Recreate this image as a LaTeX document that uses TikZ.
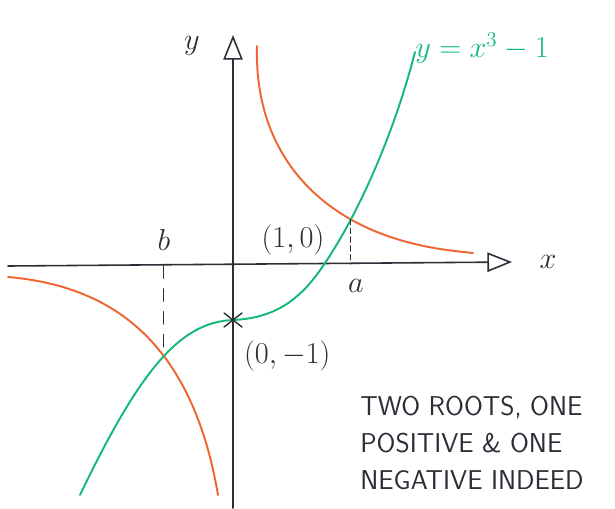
\documentclass[tikz,border=0pt]{standalone}
\usepackage{tikz}
\usetikzlibrary{arrows.meta, intersections}
\definecolor{cubicgreen}{RGB}{20,185,120}
\definecolor{hyporange}{RGB}{240,100,50}
\definecolor{pen}{RGB}{45,45,55}

\begin{document}
\begin{tikzpicture}[x=0.02cm, y=-0.02cm, line cap=round, line join=round,
    axis/.style={pen, line width=0.9pt, -{Triangle[open, length=14pt, width=11pt]}},
    curve/.style={line width=1.1pt},
    lbl/.style={pen, font=\fontsize{17}{20}\selectfont},
    note/.style={pen, font=\sffamily\fontsize{15.5}{21}\selectfont, align=left}]

  \useasboundingbox (0,0) rectangle (615,508);

  % Axes
  \draw[axis] (8,266) -- (512,262);
  \draw[axis] (233,508) -- (233,35);
  \node[lbl] (xlab) at (548,262) {$x$};
  \node[lbl] (ylab) at (192,46) {$y$};

  % Hyperbola branches
  \draw[curve, hyporange, name path=upbranch] (257,46)
    .. controls (254,150) and (315,215) .. (400,240)
    .. controls (430,249) and (455,251) .. (473,253);
  \draw[curve, hyporange, name path=lowbranch] (8,277)
    .. controls (100,285) and (190,330) .. (218,495);

  % Cubic
  \draw[curve, cubicgreen, name path=cubic] (80,495)
    .. controls (140,370) and (180,322) .. (233,320)
    .. controls (275,318) and (300,300) .. (323,266)
    .. controls (360,212) and (395,130) .. (415,52);
  \node[cubicgreen, font=\fontsize{18}{22}\selectfont] (eqn) at (482,48) {$y=x^3-1$};

  % Intersections dropped to the axis
  \path[name intersections={of=cubic and lowbranch, by=bcut}];
  \path[name intersections={of=cubic and upbranch, by=acut}];
  \coordinate (bfoot) at (bcut |- 0,266);
  \coordinate (afoot) at (acut |- 0,264);
  \draw[pen, dashed, dash pattern=on 7pt off 6pt, line width=0.7pt] (bfoot) -- (bcut);
  \draw[pen, densely dashed, line width=0.7pt] (acut) -- (afoot);
  \node[lbl] (blab) at ([shift={(0,-26)}]bfoot) {$b$};
  \node[lbl] (alab) at ([shift={(5,22)}]afoot) {$a$};

  % Axis crossings
  \coordinate (root) at (323,266);
  \coordinate (yint) at (233,320);
  \draw[pen, line width=0.8pt] ([shift={(-9,-7)}]yint) -- ([shift={(9,7)}]yint)
    ([shift={(-9,7)}]yint) -- ([shift={(9,-7)}]yint);
  \node[lbl] (rootlab) at (293,240) {$(1,0)$};
  \node[lbl, anchor=west] (yintlab) at (238,356) {$(0,-1)$};

  % Comment
  \node[note] (remark) at (472,443) {TWO ROOTS, ONE\\POSITIVE \& ONE\\NEGATIVE INDEED};

\end{tikzpicture}
\end{document}
